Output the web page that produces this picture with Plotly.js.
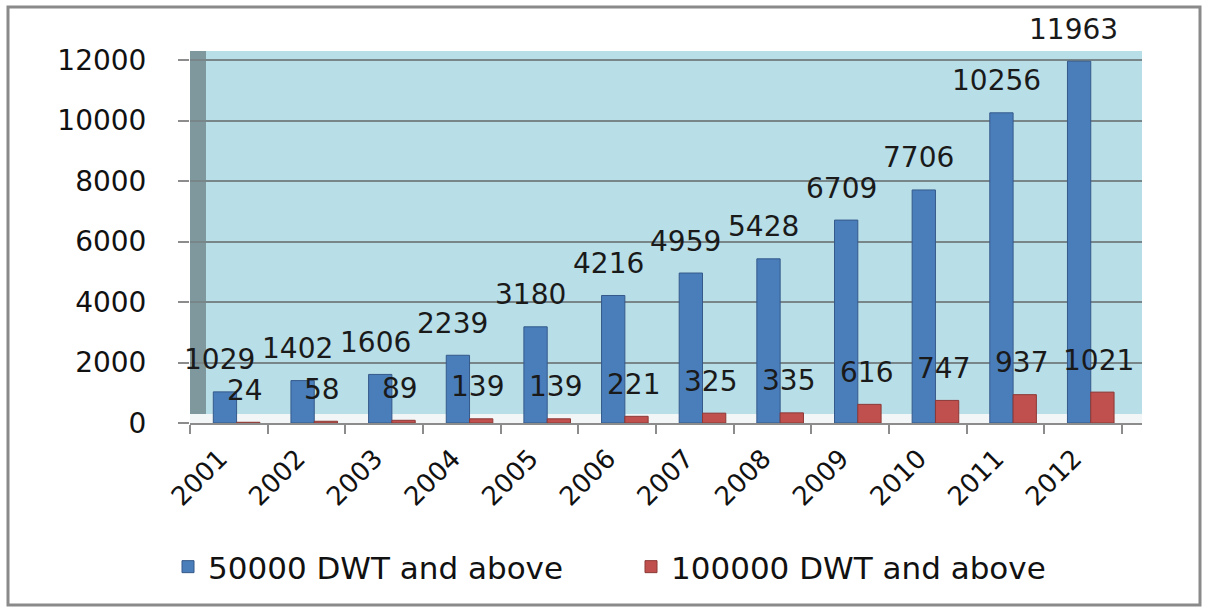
<!DOCTYPE html>
<html>
<head>
<meta charset="utf-8">
<script src="https://cdn.plot.ly/plotly-3.0.1.min.js"></script>
<style>
  html, body { margin: 0; padding: 0; background: #ffffff; }
  #chart { width: 1209px; height: 610px; }
</style>
</head>
<body>
<div id="chart"></div>
<script>
// ---- data ----
const years = ["2001","2002","2003","2004","2005","2006","2007","2008","2009","2010","2011","2012"];
const dwt50000 = [1029, 1402, 1606, 2239, 3180, 4216, 4959, 5428, 6709, 7706, 10256, 11963];
const dwt100000 = [24, 58, 89, 139, 139, 221, 325, 335, 616, 747, 937, 1021];
const seriesNames = ["50000 DWT and above", "100000 DWT and above"];
const yTicks = [0, 2000, 4000, 6000, 8000, 10000, 12000];

// ---- layout geometry ----
const W = 1209, H = 610;
const L = 190, R = 67, T = 51, B = 187;
const pw = W - L - R, ph = H - T - B;
const px = v => (v - L) / pw;          // pixel x -> paper x
const py = v => (H - B - v) / ph;      // pixel y -> paper y

const labelFont = {family: "DejaVu Sans, Verdana, sans-serif", size: 28, color: "#1a1a1a"};

const traces = [
  {
    type: "bar", x: years, y: dwt50000, name: seriesNames[0],
    width: 0.3, offset: -0.2,
    marker: {color: "#4a7ebb", line: {color: "#34598a", width: 1}},
    hoverinfo: "x+y"
  },
  {
    type: "bar", x: years, y: dwt100000, name: seriesNames[1],
    width: 0.3, offset: 0.1,
    marker: {color: "#c0504d", line: {color: "#8c3836", width: 1}},
    hoverinfo: "x+y"
  }
];

const annotations = [];
years.forEach((yr, i) => {
  annotations.push({x: i, y: dwt50000[i], text: String(dwt50000[i]), showarrow: false,
    xref: "x", yref: "y", xshift: -9, yshift: 32, font: labelFont});
  annotations.push({x: i, y: dwt100000[i], text: String(dwt100000[i]), showarrow: false,
    xref: "x", yref: "y", xshift: 16, yshift: 32, font: labelFont});
});

const layout = {
  width: W, height: H,
  margin: {l: L, r: R, t: T, b: B, pad: 0},
  paper_bgcolor: "#ffffff",
  plot_bgcolor: "#b8dee8",
  showlegend: true,
  barmode: "overlay",
  xaxis: {
    type: "category",
    range: [-0.5, 11.76],
    tickson: "boundaries",
    ticks: "outside", ticklen: 9, tickwidth: 2, tickcolor: "#8c8c8c",
    showline: true, linecolor: "#8c8c8c", linewidth: 2,
    showgrid: false,
    tickangle: -45,
    ticklabelstandoff: 8,
    ticklabelshift: -9,
    tickfont: {family: "DejaVu Sans, Verdana, sans-serif", size: 26, color: "#111111"},
    fixedrange: true
  },
  yaxis: {
    range: [0, 12300],
    tickvals: yTicks,
    ticktext: yTicks.map(String),
    ticks: "outside", ticklen: 11, tickwidth: 2, tickcolor: "#8c8c8c",
    ticklabelstandoff: 26,
    showline: false,
    showgrid: true, gridcolor: "#78868a", gridwidth: 2,
    zeroline: false,
    tickfont: {family: "DejaVu Sans, Verdana, sans-serif", size: 28, color: "#111111"},
    fixedrange: true
  },
  legend: {
    orientation: "h",
    x: px(168), xanchor: "left",
    y: py(567), yanchor: "middle",
    font: {family: "DejaVu Sans, Verdana, sans-serif", size: 31, color: "#111111"},
    entrywidth: 418, entrywidthmode: "pixels",
    bgcolor: "rgba(0,0,0,0)"
  },
  annotations: annotations,
  shapes: [
    // left side wall
    {type: "rect", xref: "paper", yref: "paper", x0: 0, x1: px(206), y0: 0, y1: 1,
     fillcolor: "#7f989e", line: {width: 0}, layer: "below"},
    // floor strip
    {type: "rect", xref: "paper", yref: "paper", x0: 0, x1: 1, y0: 0, y1: py(414),
     fillcolor: "#f2f6f6", line: {width: 0}, layer: "below"},
    // outer chart border
    {type: "rect", xref: "paper", yref: "paper", x0: px(8), x1: px(1200), y0: py(605), y1: py(7),
     fillcolor: "rgba(0,0,0,0)", line: {color: "#8a8a8a", width: 3}, layer: "above"}
  ]
};

Plotly.newPlot("chart", traces, layout, {displayModeBar: false, staticPlot: true});
</script>
</body>
</html>
